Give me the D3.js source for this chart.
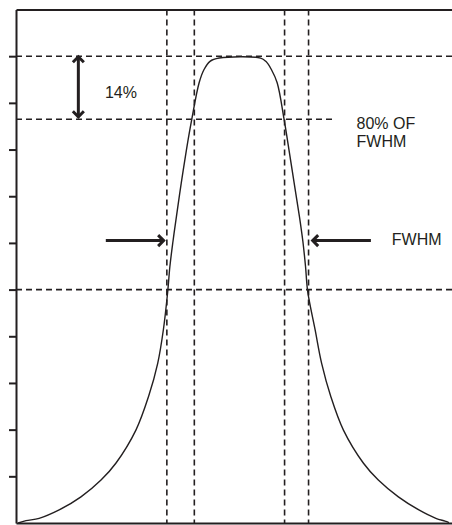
<!DOCTYPE html>
<html>
<head>
<meta charset="utf-8">
<script src="https://cdn.jsdelivr.net/npm/d3@7"></script>
<style>
  html, body { margin: 0; padding: 0; background: #fff; }
  svg { display: block; }
  text { font-family: "Liberation Sans", Arial, sans-serif; fill: #231f20; }
</style>
</head>
<body>
<div id="chart"></div>
<script>
// ---- data (relative wavelength 0..100, transmission %) ----
const curveX = [0.5, 2.3, 5.3, 9.9, 14.9, 19.5, 22.9, 27.5, 30.4, 32.5, 33.8, 34.8, 35.3, 36.0, 36.8, 37.9, 39.1, 40.3, 42.0, 43.1, 44.5, 46.6,
                56.1, 57.3, 58.6, 59.9, 61.5, 62.6, 63.8, 65.0, 65.8, 66.4, 66.9, 68.6, 70.1, 72.2, 75.1, 79.7, 83.1, 87.7, 92.4, 96.3, 98.4, 99.3];
const curveY = [0.0, 0.5, 1.0, 2.8, 5.6, 9.2, 12.8, 19.9, 27.1, 34.2, 41.4, 49.6, 55.0, 60.3, 65.7, 72.8, 80.0, 86.4, 94.3, 97.1, 98.9, 99.6,
                99.6, 98.9, 97.1, 94.3, 86.4, 80.0, 72.8, 65.7, 60.3, 55.0, 49.6, 41.4, 34.2, 27.1, 19.9, 12.8, 9.2, 5.6, 2.8, 1.0, 0.4, 0.1];
const yTicks = [10, 20, 30, 40, 50, 60, 70, 80, 90, 100];
const vLines = [34.6, 40.9, 61.6, 67.1];            // FWHM and 80% of FWHM edges
const hLines = [100, 86.5, 50];                     // peak, 14% down, half max
const hLineEnds = [100, 72.9, 100];
const arrowVert = { x: 14.3, y1: 100.2, y2: 86.7 };
const arrowsHoriz = [ { x1: 20.6, x2: 34.2, y: 60.5 }, { x1: 81.4, x2: 67.7, y: 60.5 } ];
const labels = [
  { lines: ["14%"],            x: 20.4, y: 91.1 },
  { lines: ["80% OF", "FWHM"], x: 78.1, y: 84.4 },
  { lines: ["FWHM"],           x: 86.2, y: 59.5 }
];

// ---- layout ----
const W = 452, H = 525;
const svg = d3.select("#chart").append("svg").attr("width", W).attr("height", H);
const x = d3.scaleLinear().domain([0, 100]).range([16, 452]);
const y = d3.scaleLinear().domain([0, 110]).range([523, 9.5]);
const ink = "#231f20";

// dashed reference lines
svg.selectAll("line.h").data(hLines).join("line")
  .attr("x1", x(0)).attr("x2", (d, i) => x(hLineEnds[i]))
  .attr("y1", d => y(d)).attr("y2", d => y(d))
  .attr("stroke", ink).attr("stroke-width", 1.6).attr("stroke-dasharray", "6,4");
svg.selectAll("line.v").data(vLines).join("line")
  .attr("x1", d => x(d)).attr("x2", d => x(d))
  .attr("y1", y(110)).attr("y2", y(0))
  .attr("stroke", ink).attr("stroke-width", 1.6).attr("stroke-dasharray", "6,4");

// curve
const pts = curveX.map((d, i) => [d, curveY[i]]);
svg.append("path").datum(pts)
  .attr("fill", "none").attr("stroke", ink).attr("stroke-width", 1.4)
  .attr("d", d3.line().x(d => x(d[0])).y(d => y(d[1])).curve(d3.curveCatmullRom.alpha(0.5)));

// axes / frame
const gL = svg.append("g").attr("transform", `translate(${x(0)},0)`)
  .call(d3.axisLeft(y).tickValues(yTicks).tickSize(7).tickSizeOuter(0).tickFormat(""));
const gB = svg.append("g").attr("transform", `translate(0,${y(0)})`)
  .call(d3.axisBottom(x).tickValues([]).tickSizeOuter(0));
const gT = svg.append("g").attr("transform", `translate(0,${y(110)})`)
  .call(d3.axisTop(x).tickValues([]).tickSizeOuter(0));
[gL, gB, gT].forEach(g => {
  g.selectAll("path, line").attr("stroke", ink).attr("stroke-width", 2);
});

// arrows
const head = 5.5, half = 5.5;
function chevron(tx, ty, dx, dy) { // tip at (tx,ty) pointing along (dx,dy)
  const px = -dy, py = dx;
  return `M${tx - dx * head + px * half},${ty - dy * head + py * half}L${tx},${ty}L${tx - dx * head - px * half},${ty - dy * head - py * half}`;
}
const ag = svg.append("g").attr("fill", "none").attr("stroke", ink).attr("stroke-width", 3)
  .attr("stroke-linejoin", "miter");
ag.append("line").attr("x1", x(arrowVert.x)).attr("x2", x(arrowVert.x))
  .attr("y1", y(arrowVert.y1) + 1).attr("y2", y(arrowVert.y2) - 1);
ag.append("path").attr("d", chevron(x(arrowVert.x), y(arrowVert.y1) + 1.5, 0, -1));
ag.append("path").attr("d", chevron(x(arrowVert.x), y(arrowVert.y2) - 1.5, 0, 1));
arrowsHoriz.forEach(a => {
  const dir = Math.sign(a.x2 - a.x1);
  ag.append("line").attr("x1", x(a.x1)).attr("x2", x(a.x2) - dir).attr("y1", y(a.y)).attr("y2", y(a.y));
  ag.append("path").attr("d", chevron(x(a.x2) - dir * 1.5, y(a.y), dir, 0));
});

// labels
const t = svg.selectAll("text.lbl").data(labels).join("text").attr("class", "lbl")
  .attr("x", d => x(d.x)).attr("y", d => y(d.y))
  .attr("font-size", 16);
t.selectAll("tspan").data(d => d.lines.map(l => ({ l, x: d.x }))).join("tspan")
  .attr("x", d => x(d.x)).attr("dy", (d, i) => i ? 18.4 : 0).text(d => d.l);
</script>
</body>
</html>
